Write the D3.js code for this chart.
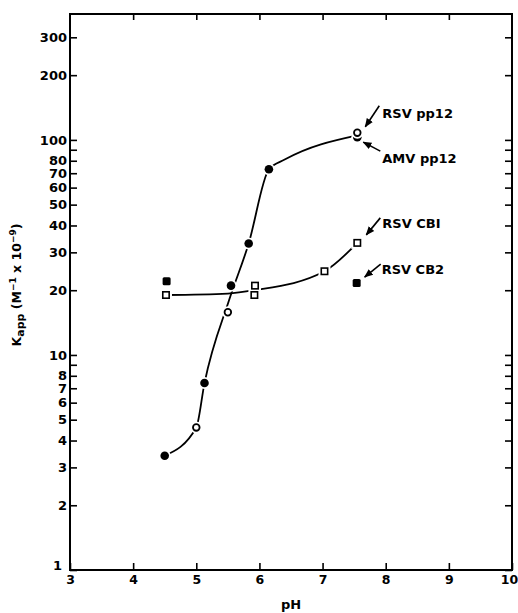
<!DOCTYPE html>
<html>
<head>
<meta charset="utf-8">
<script src="https://cdn.jsdelivr.net/npm/d3@7"></script>
<style>
  body { margin: 0; background: #fff; }
  text { font-family: "DejaVu Sans", sans-serif; font-weight: bold; fill: #000; }
</style>
</head>
<body>
<div id="drawing_region"></div>
<script>
// values: [pH, Kapp]
const amvPp12 = [[4.5, 3.4], [5.13, 7.4], [5.55, 21], [5.83, 33], [6.15, 73], [7.55, 103]];
const rsvPp12 = [[5.0, 4.6], [5.5, 15.8], [7.55, 108]];
const rsvCb1 = [[4.52, 19], [5.92, 19], [5.93, 21], [7.03, 24.5], [7.55, 33.2]];
const rsvCb2 = [[4.53, 22], [7.54, 21.6]];

// hand-drawn fit curves as they appear in the figure
const pp12Curve = [[4.5, 3.4], [5.0, 4.6], [5.13, 7.4], [5.52, 18], [5.83, 33], [6.15, 73], [6.4, 81], [7.55, 105]];
const cb1Curve = [[4.52, 19], [5.5, 19.3], [5.92, 20], [7.03, 24.5], [7.55, 33.2]];

const xTicks = [3, 4, 5, 6, 7, 8, 9, 10];
const yTicks = [1, 2, 3, 4, 5, 6, 7, 8, 9, 10, 20, 30, 40, 50, 60, 70, 80, 90, 100, 200, 300];
const yTickLabels = [1, 2, 3, 4, 5, 6, 7, 8, 10, 20, 30, 40, 50, 60, 70, 80, 100, 200, 300];

const labels = [
  { text: "RSV pp12", at: [7.55, 108], tip: [8, -6], tail: [22, -27], pos: [25, -19] },
  { text: "AMV pp12", at: [7.55, 103], tip: [6, 5], tail: [23, 14], pos: [25, 21] },
  { text: "RSV CBI", at: [7.55, 33.2], tip: [9, -8], tail: [23, -25], pos: [25, -19] },
  { text: "RSV CB2", at: [7.54, 21.6], tip: [8, -6], tail: [24, -19], pos: [25, -14] }
];

const width = 518, height = 613;
const svg = d3.select("#drawing_region").append("svg")
  .attr("width", width)
  .attr("height", height);

const x = d3.scaleLinear().domain([3, 10]).range([70, 512]);
const y = d3.scaleLog().domain([1, 385]).range([570, 14]);

// frame
svg.append("rect")
  .attr("x", x(3)).attr("y", y(385))
  .attr("width", x(10) - x(3)).attr("height", y(1) - y(385))
  .attr("fill", "none").attr("stroke", "#000").attr("stroke-width", 2);

// axes
const fmt = d => yTickLabels.includes(d) ? d : "";
const leftAxis = svg.append("g").attr("transform", `translate(${x(3)},0)`)
  .call(d3.axisRight(y).tickValues(yTicks).tickFormat(fmt).tickSize(7).tickSizeOuter(0));
leftAxis.selectAll("text").attr("x", -3).attr("text-anchor", "end").style("font-size", "13px");

svg.append("g").attr("transform", `translate(${x(10)},0)`)
  .call(d3.axisLeft(y).tickValues(yTicks).tickFormat("").tickSize(7).tickSizeOuter(0));

const bottomAxis = svg.append("g").attr("transform", `translate(0,${y(1)})`)
  .call(d3.axisTop(x).tickValues(xTicks).tickFormat(d3.format("d")).tickSize(7).tickSizeOuter(0));
bottomAxis.selectAll("text").attr("y", 5).attr("dy", "0.71em").style("font-size", "12.5px");
bottomAxis.selectAll(".tick").filter(d => d === 10).select("text").attr("dx", -3);

svg.append("g").attr("transform", `translate(0,${y(385)})`)
  .call(d3.axisBottom(x).tickValues(xTicks.slice(1, -1)).tickFormat("").tickSize(6).tickSizeOuter(0));

svg.selectAll(".domain").remove();
svg.selectAll(".tick line").attr("stroke", "#000").attr("stroke-width", 1.6);
// label "1" sits a bit high, next to the corner
leftAxis.selectAll(".tick").filter(d => d === 1).select("text").attr("y", -5).attr("x", -8);

// fit curves
const line = d3.line().x(d => x(d[0])).y(d => y(d[1])).curve(d3.curveMonotoneX);
[pp12Curve, cb1Curve].forEach(c => {
  svg.append("path").attr("d", line(c))
    .attr("fill", "none").attr("stroke", "#000").attr("stroke-width", 1.8);
});

// markers
function circles(data, filled) {
  const g = svg.append("g");
  g.selectAll(".halo").data(data).enter().append("circle")
    .attr("cx", d => x(d[0])).attr("cy", d => y(d[1])).attr("r", 6).attr("fill", "#fff");
  g.selectAll(".m").data(data).enter().append("circle")
    .attr("cx", d => x(d[0])).attr("cy", d => y(d[1]))
    .attr("r", filled ? 4.3 : 3.3)
    .attr("fill", filled ? "#000" : "#fff")
    .attr("stroke", "#000").attr("stroke-width", filled ? 0 : 1.8);
}
function squares(data, filled) {
  const g = svg.append("g");
  const s = 8;
  g.selectAll(".halo").data(data).enter().append("rect")
    .attr("x", d => x(d[0]) - s / 2 - 2).attr("y", d => y(d[1]) - s / 2 - 2)
    .attr("width", s + 4).attr("height", s + 4).attr("fill", "#fff");
  g.selectAll(".m").data(data).enter().append("rect")
    .attr("x", d => x(d[0]) - (filled ? s / 2 : s / 2 - 0.8))
    .attr("y", d => y(d[1]) - (filled ? s / 2 : s / 2 - 0.8))
    .attr("width", filled ? s : s - 1.6).attr("height", filled ? s : s - 1.6)
    .attr("rx", filled ? 1.5 : 0)
    .attr("fill", filled ? "#000" : "#fff")
    .attr("stroke", "#000").attr("stroke-width", filled ? 0 : 1.6);
}
squares(rsvCb1, false);
squares(rsvCb2, true);
circles(amvPp12, true);
circles(rsvPp12, false);

// annotations with arrows
svg.append("defs").append("marker")
  .attr("id", "head").attr("viewBox", "0 0 10 10")
  .attr("refX", 9).attr("refY", 5)
  .attr("markerWidth", 9).attr("markerHeight", 9)
  .attr("markerUnits", "userSpaceOnUse")
  .attr("orient", "auto")
  .append("path").attr("d", "M0,1 L10,5 L0,9 Z").attr("fill", "#000");

labels.forEach(l => {
  const px = x(l.at[0]), py = y(l.at[1]);
  svg.append("line")
    .attr("x1", px + l.tail[0]).attr("y1", py + l.tail[1])
    .attr("x2", px + l.tip[0]).attr("y2", py + l.tip[1])
    .attr("stroke", "#000").attr("stroke-width", 1.6)
    .attr("marker-end", "url(#head)");
  svg.append("text")
    .attr("x", px + l.pos[0]).attr("y", py + l.pos[1])
    .attr("dy", "0.35em")
    .style("font-size", "13px")
    .text(l.text);
});

// axis titles
svg.append("text")
  .attr("x", (x(3) + x(10)) / 2).attr("y", 609)
  .attr("text-anchor", "middle").style("font-size", "13px")
  .text("pH");

const yt = svg.append("text")
  .attr("transform", "translate(21,285) rotate(-90)")
  .attr("text-anchor", "middle").style("font-size", "12.5px");
yt.append("tspan").text("K");
yt.append("tspan").attr("dy", 3).style("font-size", "11px").text("app");
yt.append("tspan").attr("dy", -3).text(" (M");
yt.append("tspan").attr("dy", -5).style("font-size", "9px").text("−1");
yt.append("tspan").attr("dy", 5).text(" x 10");
yt.append("tspan").attr("dy", -5).style("font-size", "9px").text("−9");
yt.append("tspan").attr("dy", 5).text(")");
</script>
</body>
</html>
